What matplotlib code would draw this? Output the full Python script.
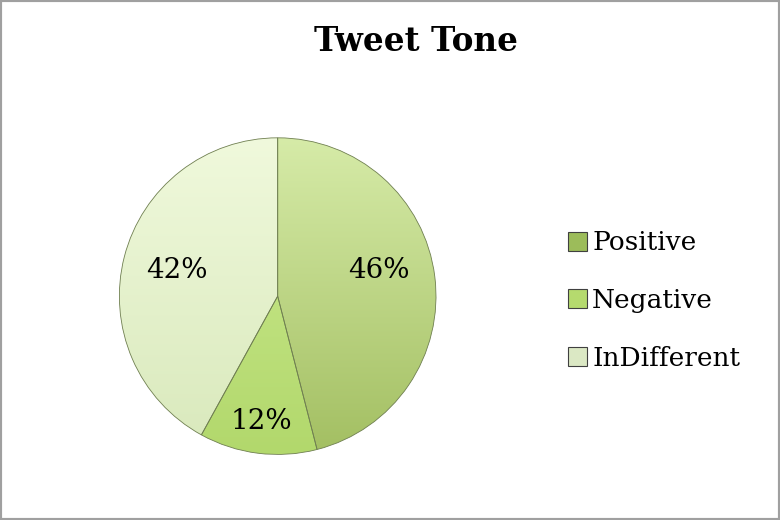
import numpy as np
import matplotlib
matplotlib.use("Agg")
import matplotlib.pyplot as plt
from matplotlib.patches import Patch, Rectangle
from matplotlib.colors import LinearSegmentedColormap

title = "Tweet Tone"
categories = ["Positive", "Negative", "InDifferent"]
values = [46, 12, 42]
top_colors = ["#d6eba8", "#cdeb92", "#f0f9dc"]
bottom_colors = ["#a3bf62", "#b2d86c", "#d9e9bc"]
legend_colors = ["#9cbc5a", "#b5da6e", "#dbe8c4"]

plt.rcParams['font.family'] = ['DejaVu Serif']

fig = plt.figure(figsize=(7.8, 5.2), dpi=100)
fig.patches.append(Rectangle((0, 0), 1, 1, transform=fig.transFigure, fill=False,
                             edgecolor="#a0a0a0", linewidth=3, zorder=10))

ax = fig.add_axes([0.151, 0.123, 0.410, 0.615])
wedges, texts, autotexts = ax.pie(values, startangle=90, counterclock=False,
                                  autopct='%1.0f%%', pctdistance=0.66,
                                  wedgeprops=dict(linewidth=0),
                                  textprops=dict(fontsize=20, color="black"))
grad = np.linspace(1, 0, 256).reshape(-1, 1)
for w, tc, bc in zip(wedges, top_colors, bottom_colors):
    w.set_facecolor("none")
    cmap = LinearSegmentedColormap.from_list("g", [bc, tc])
    im = ax.imshow(grad, cmap=cmap, extent=[-1, 1, -1, 1], aspect='auto',
                   interpolation='bilinear', zorder=1)
    im.set_clip_path(w)
    w.set_edgecolor("#6f7f50")
    w.set_linewidth(0.6)
    w.set_zorder(2)
# label radii (Excel best-fit style)
w0 = wedges[0]
a0 = np.deg2rad((w0.theta1 + w0.theta2) / 2 + 7)
autotexts[0].set_position((0.66 * np.cos(a0), 0.66 * np.sin(a0)))
w1 = wedges[1]
a1 = np.deg2rad((w1.theta1 + w1.theta2) / 2)
autotexts[1].set_position((0.80 * np.cos(a1), 0.80 * np.sin(a1)))
for t in autotexts:
    t.set_zorder(5)
ax.set_xlim(-1.01, 1.01)
ax.set_ylim(-1.01, 1.01)
ax.set_aspect('equal')
ax.axis('off')

fig.text(0.533, 0.921, title, ha='center', va='center', fontsize=23.5, fontweight='bold')

handles = [Patch(facecolor=c, edgecolor="#404040", linewidth=0.8) for c in legend_colors]
fig.legend(handles, categories, loc='center left', bbox_to_anchor=(0.711, 0.422),
           frameon=False, fontsize=19, handlelength=0.72, handleheight=0.72,
           handletextpad=0.2, labelspacing=1.24, borderpad=0)

fig.savefig("out.png", dpi=100, facecolor="white")
